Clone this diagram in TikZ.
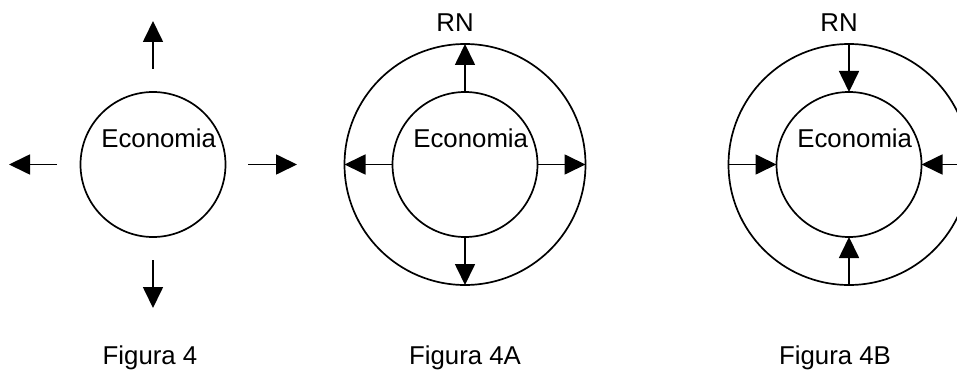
\documentclass[tikz,border=0pt]{standalone}
\usepackage{fontspec}
\setmainfont{Liberation Sans}
\usetikzlibrary{positioning, arrows.meta}

\begin{document}
\begin{tikzpicture}[x=0.5pt, y=-0.5pt, line width=0.85pt,
    ring/.style={draw, circle, inner sep=0pt, outer sep=0pt, minimum size=#1},
    flow/.style={-{Triangle[length=10.5pt, width=10pt]}},
    txt/.style={font=\fontsize{12.9}{15}\selectfont, inner sep=0pt}]
  \useasboundingbox (0,0) rectangle (957,369);
  \clip (0,0) rectangle (957,369);

  % Figura 4
  \node[ring=72.5pt] (eco) at (153,164.5) {};
  \node[txt, anchor=base west] (ecoT) at ([shift={(20,-16.5)}]eco.west) {Economia};
  \coordinate (upA) at (153,69);   \coordinate (upB) at (153,21);
  \coordinate (dnA) at (153,260);  \coordinate (dnB) at (153,308);
  \coordinate (lfA) at (57,164.5); \coordinate (lfB) at (9,164.5);
  \coordinate (rtA) at (248,164.5);\coordinate (rtB) at (297,164.5);
  \draw[flow] (upA) -- (upB);
  \draw[flow] (dnA) -- (dnB);
  \draw[flow] (lfA) -- (lfB);
  \draw[flow] (rtA) -- (rtB);
  \node[txt, anchor=base] (capA) at (150,364) {Figura 4};

  % Figura 4A
  \node[ring=120.5pt] (rnA) at (465,164.5) {};
  \node[ring=72.5pt] (ecoA) at (465,164.5) {};
  \node[txt, anchor=base west] (ecoAT) at ([shift={(20,-16.5)}]ecoA.west) {Economia};
  \node[txt, anchor=base] (rnAT) at ([shift={(-10,-12)}]rnA.north) {RN};
  \draw[flow] (ecoA.north) -- (rnA.north);
  \draw[flow] (ecoA.south) -- (rnA.south);
  \draw[flow] (ecoA.west) -- (rnA.west);
  \draw[flow] (ecoA.east) -- (rnA.east);
  \node[txt, anchor=base] (capB) at (465,364) {Figura 4A};

  % Figura 4B
  \node[ring=120.5pt] (rnB) at (849,164.5) {};
  \node[ring=72.5pt] (ecoB) at (849,164.5) {};
  \node[txt, anchor=base west] (ecoBT) at ([shift={(20,-16.5)}]ecoB.west) {Economia};
  \node[txt, anchor=base] (rnBT) at ([shift={(-10,-12)}]rnB.north) {RN};
  \draw[flow] (rnB.north) -- (ecoB.north);
  \draw[flow] (rnB.south) -- (ecoB.south);
  \draw[flow] (rnB.west) -- (ecoB.west);
  \draw[flow] (rnB.east) -- (ecoB.east);
  \node[txt, anchor=base] (capC) at (835,364) {Figura 4B};
\end{tikzpicture}
\end{document}
